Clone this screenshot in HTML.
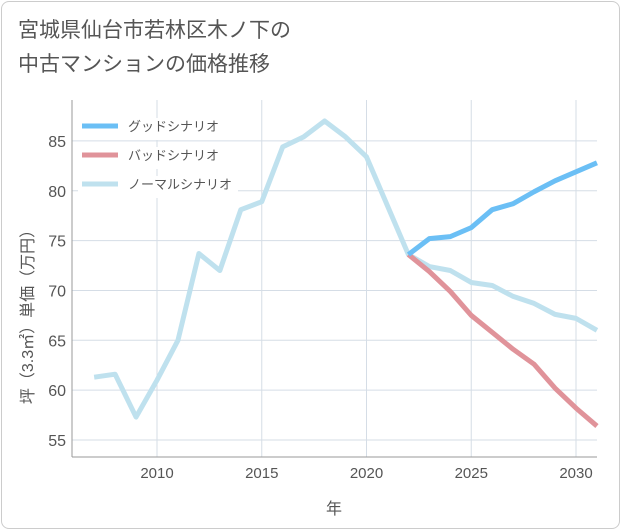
<!DOCTYPE html>
<html><head><meta charset="utf-8"><style>
body{margin:0;background:#fff;font-family:"Liberation Sans","Noto Sans CJK JP",sans-serif;}
#card{position:absolute;left:1px;top:1px;width:617px;height:526px;border:1px solid #ccc;border-radius:8px;background:#fff;}
#title{position:absolute;left:18px;top:14px;font-size:21px;line-height:34px;color:#555;}
svg{position:absolute;left:0;top:0}
</style></head><body>
<div id="card"></div>
<div id="title">宮城県仙台市若林区木ノ下の<br>中古マンションの価格推移</div>
<svg id="chart" width="621" height="530"></svg>
<script>
const years=[2007,2008,2009,2010,2011,2012,2013,2014,2015,2016,2017,2018,2019,2020,2021,2022,2023,2024,2025,2026,2027,2028,2029,2030,2031];
const normal=[61.3,61.6,57.3,61,65,73.7,72,78.1,78.9,84.4,85.4,87,85.4,83.4,78.5,73.6,72.4,72,70.8,70.5,69.4,68.7,67.6,67.2,66];
const goodYears=[2022,2023,2024,2025,2026,2027,2028,2029,2030,2031];
const good=[73.6,75.2,75.4,76.3,78.1,78.7,79.9,81,81.9,82.8];
const bad=[73.6,71.9,69.9,67.5,65.8,64.1,62.6,60.2,58.2,56.4];
const xTicks=[2010,2015,2020,2025,2030];
const yTicks=[55,60,65,70,75,80,85];
const L=72,R=597,T=100,B=457;
const x=v=>157+(v-2010)*20.95;
const y=v=>440-(v-55)*9.97;
const s=document.getElementById('chart');const NS='http://www.w3.org/2000/svg';
function mk(t,a,p){const e=document.createElementNS(NS,t);for(const k in a)e.setAttribute(k,a[k]);(p||s).appendChild(e);return e;}
for(let yr=2007;yr<=2031;yr++){}
xTicks.forEach(v=>{const l=mk('line',{x1:x(v),x2:x(v),y1:T,y2:B,stroke:'#d5dde6'});


const t=mk('text',{x:x(v),y:478,'text-anchor':'middle','font-size':15,fill:'#555'});t.textContent=v;

});
yTicks.forEach(v=>{const l=mk('line',{x1:L,x2:R,y1:y(v),y2:y(v),stroke:'#d5dde6'});


const t=mk('text',{x:66,y:y(v)+6,'text-anchor':'end','font-size':16,fill:'#555'});t.textContent=v;

});
mk('line',{x1:L,x2:L,y1:T,y2:B,stroke:'#999'});
mk('line',{x1:L,x2:R,y1:B,y2:B,stroke:'#999'});
function line(xs,ys,c,n){const p=mk('polyline',{points:xs.map((v,i)=>x(v)+','+y(ys[i])).join(' '),fill:'none',stroke:c,'stroke-width':5,'stroke-linejoin':'round'});

}
line(years,normal,'#bfe1ee','normal-series');
line(goodYears,bad,'#e0939a','bad-series');
line(goodYears,good,'#6bbff5','good-series');
const leg=[['グッドシナリオ','#6bbff5'],['バッドシナリオ','#e0939a'],['ノーマルシナリオ','#bfe1ee']];
leg.forEach((d,i)=>{const yy=126+i*29;mk('rect',{x:78,y:118+i*29,width:160,height:22,fill:'#fff'});
const l=mk('line',{x1:82,x2:118,y1:yy,y2:yy,stroke:d[1],'stroke-width':5});


const t=mk('text',{x:128,y:yy+5,'font-size':13,fill:'#555'});t.textContent=d[0];

});
const xt=mk('text',{x:334,y:514,'text-anchor':'middle','font-size':16,fill:'#555'});xt.textContent='年';


const yt=mk('text',{x:0,y:0,'text-anchor':'middle','font-size':16,fill:'#555',transform:'translate(33,313) rotate(-90)'});yt.textContent='坪（3.3㎡）単価（万円）';


</script>
</body></html>
